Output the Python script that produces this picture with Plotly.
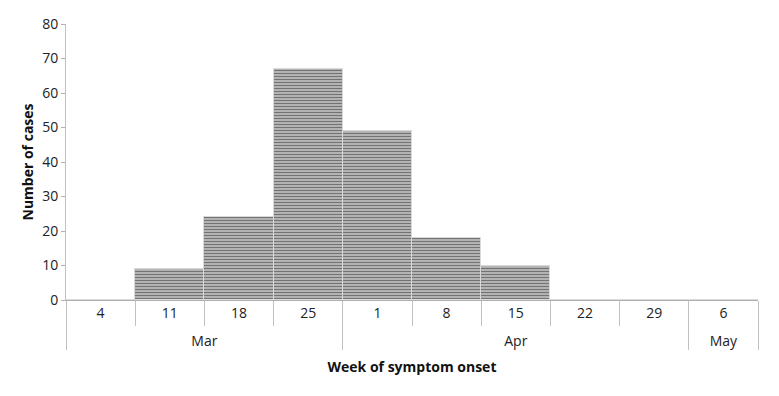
import plotly.graph_objects as go

months = ["Mar", "Mar", "Mar", "Mar", "Apr", "Apr", "Apr", "Apr", "Apr", "May"]
weeks = ["4", "11", "18", "25", "1", "8", "15", "22", "29", "6"]
cases = [0, 9, 24, 67, 49, 18, 10, 0, 0, 0]

font_family = "Open Sans, Liberation Sans, sans-serif"

# pad the week row with tall invisible spaces so the month row sits lower
pad = "<span style='font-size:19px'> </span>"
week_labels = [pad + w + pad for w in weeks]

fig = go.Figure()
fig.add_trace(go.Bar(
    x=[months, week_labels],
    y=cases,
    marker=dict(
        color="#e0e0e0",
        line=dict(color="#dadada", width=1),
        pattern=dict(shape="-", size=3, solidity=0.6, fgcolor="#737373", bgcolor="#dedede", fillmode="replace"),
    ),
    showlegend=False,
))

# page body has an 8px margin, so the figure is shifted by 8px right/down
fig.update_layout(
    width=771, height=388,
    margin=dict(l=58, r=21, t=16, b=96),
    paper_bgcolor="white", plot_bgcolor="white",
    bargap=0,
    font=dict(family=font_family, size=14, color="#222"),
    xaxis=dict(
        type="multicategory",
        showline=True, linecolor="#b0b0b0", linewidth=1,
        ticks="outside", ticklen=25, tickcolor="#c0c0c0",
        showdividers=True, dividercolor="#c0c0c0", dividerwidth=1,
        tickfont=dict(size=14, color="#222"),
        title=dict(text="<b>Week of symptom onset</b>", font=dict(size=14, color="#111"), standoff=13),
        automargin=False,
        showgrid=False,
    ),
    yaxis=dict(
        range=[0, 80], dtick=10,
        showline=True, linecolor="#c0c0c0", linewidth=1,
        ticks="outside", ticklen=4, tickcolor="#b0b0b0",
        showgrid=False, zeroline=False,
        tickfont=dict(size=14, color="#222"),
        title=dict(text="<b>Number of cases</b>", font=dict(size=14, color="#111"), standoff=5),
        automargin=False,
    ),
)

fig.write_html("out.html")
